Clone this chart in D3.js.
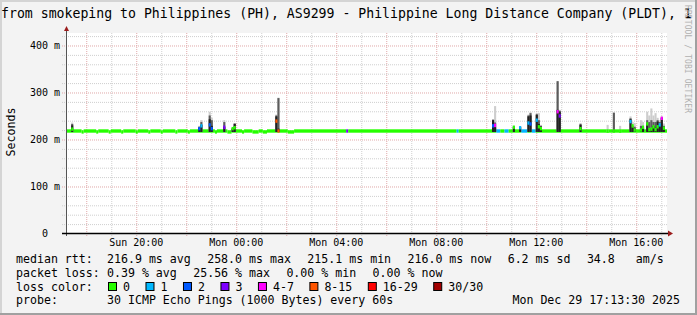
<!DOCTYPE html>
<html>
<head>
<meta charset="utf-8">
<script src="https://cdn.jsdelivr.net/npm/d3@7"></script>
<style>
  html, body { margin: 0; padding: 0; background: #f3f3f3; }
  svg { display: block; }
  text { font-family: "DejaVu Sans Mono", monospace; fill: #000; white-space: pre; }
</style>
</head>
<body>
<div id="chart-container"></div>
<script>
const WIDTH = 697;
const HEIGHT = 315;
const PLOT = { left: 67, right: 667, top: 33, bottom: 233 };

const TITLE = 'from smokeping to Philippines (PH), AS9299 - Philippine Long Distance Company (PLDT), 1';
const WATERMARK = 'RRDTOOL / TOBI OETIKER';
const START_TIME = 'Sun 17:15';
const END_TIME = 'Mon 17:15';
const Y_MAX = 425.5;
const Y_TICKS = [0, 100, 200, 300, 400];
const Y_TICK_LABELS = ['0  ', '100 m', '200 m', '300 m', '400 m'];

// median line, each run lasts until the next one starts (ms, lost pings)
const RUN_START = ['Sun 17:15', 'Sun 17:50', 'Sun 17:55', 'Sun 18:25', 'Sun 18:30', 'Sun 18:55', 'Sun 19:00',
  'Sun 19:25', 'Sun 19:30', 'Sun 20:00', 'Sun 20:05', 'Sun 20:30', 'Sun 20:35', 'Sun 21:00', 'Sun 21:05',
  'Sun 21:35', 'Sun 21:40', 'Sun 22:05', 'Sun 22:10', 'Sun 23:10', 'Sun 23:15', 'Sun 23:40', 'Sun 23:50',
  'Mon 00:15', 'Mon 00:20', 'Mon 00:40', 'Mon 00:55', 'Mon 01:05', 'Mon 01:15', 'Mon 02:05', 'Mon 02:20',
  'Mon 04:25', 'Mon 04:30', 'Mon 08:50', 'Mon 08:55', 'Mon 10:25', 'Mon 10:35', 'Mon 10:45', 'Mon 10:55',
  'Mon 11:25', 'Mon 11:40', 'Mon 11:50', 'Mon 12:00'];
const RUN_MEDIAN = [217, 215, 217, 215, 217, 215, 217,
  215, 217, 215, 217, 215, 217, 215, 217,
  215, 217, 215, 217, 215, 217, 215, 217,
  215, 217, 215, 217, 215, 217, 215, 217,
  217, 217, 217, 217, 217, 217, 217, 217,
  217, 217, 217, 217];
const RUN_LOSS = [0, 0, 0, 0, 0, 0, 0,
  0, 0, 0, 0, 0, 0, 0, 0,
  0, 0, 0, 0, 0, 0, 0, 0,
  0, 0, 0, 0, 0, 0, 0, 0,
  3, 0, 1, 0, 1, 0, 1, 0,
  1, 0, 1, 0];

// 5 minute steps that stick out of the line
const SPIKE_TIME = ['Sun 17:25', 'Sun 22:30', 'Sun 22:35', 'Sun 22:55', 'Sun 23:00', 'Sun 23:30', 'Sun 23:50',
  'Sun 23:55', 'Mon 01:35', 'Mon 01:40', 'Mon 10:15', 'Mon 10:20', 'Mon 11:05', 'Mon 11:20', 'Mon 11:40',
  'Mon 11:45', 'Mon 12:00', 'Mon 12:05', 'Mon 12:10', 'Mon 12:50', 'Mon 12:55', 'Mon 13:45', 'Mon 14:50',
  'Mon 15:05', 'Mon 15:20', 'Mon 15:45', 'Mon 15:50', 'Mon 15:55', 'Mon 16:10', 'Mon 16:15', 'Mon 16:25',
  'Mon 16:30', 'Mon 16:35', 'Mon 16:40', 'Mon 16:45', 'Mon 16:50', 'Mon 16:55', 'Mon 17:00', 'Mon 17:05'];
const SPIKE_MIN = [215, 215, 215, 215, 215, 215, 215,
  215, 215, 215, 215, 215, 215, 215, 215,
  215, 215, 215, 215, 215, 215, 215, 215,
  215, 215, 215, 215, 215, 215, 215, 215,
  215, 215, 215, 215, 215, 215, 215, 215];
const SPIKE_MEDIAN = [221, 222, 228, 230, 222, 225, 222,
  224, 238, 217, 228, 229, 225, 224, 234,
  232, 240, 226, 222, 258, 249, 222, 217,
  217, 217, 237, 228, 219, 219, 225, 232,
  220, 221, 226, 220, 226, 230, 244, 223];
const SPIKE_LOSS = [0, 2, 1, 2, 2, 3, 0,
  0, 10, 10, 2, 5, 0, 1, 1,
  2, 1, 0, 0, 5, 3, 0, 0,
  0, 0, 1, 0, 0, 0, 0, 0,
  0, 0, 0, 0, 0, 1, 5, 0];
const SPIKE_DARK = [229, 224, 230, 242, 228, 226, 222,
  232, 248, 222, 240, 225, 226, 225, 248,
  250, 251, 232, 226, 262, 258, 230, 215,
  218, 215, 242, 224, 222, 220, 223, 233,
  222, 222, 228, 224, 237, 232, 245, 226];
const SPIKE_MID = [232, 226, 236, 250, 240, 236, 223,
  233, 250, 287, 241, 235, 227, 226, 250,
  255, 253, 240, 228, 323, 260, 232, 215,
  256, 215, 244, 228, 226, 228, 226, 240,
  236, 240, 236, 236, 240, 236, 246, 228];
const SPIKE_MAX = [235, 228, 240, 258, 245, 240, 224,
  234, 252, 288, 242, 270, 228, 227, 252,
  257, 255, 255, 230, 323, 262, 234, 230,
  256, 228, 248, 236, 234, 240, 236, 258,
  250, 265, 250, 255, 245, 240, 248, 233];

const LOSS_THRESHOLDS = [1, 2, 3, 4, 8, 16, 30];
const LOSS_COLORS = ['#26ff00', '#00b8ff', '#0059ff', '#7e00ff', '#ff00ff', '#ff5500', '#ff0000', '#a10000'];
const LOSS_LABELS = ['0', '1', '2', '3', '4-7', '8-15', '16-29', '30/30'];

const RTT_STATS = ['216.9 ms avg', '258.0 ms max', '215.1 ms min', '216.0 ms now', '6.2 ms sd', '34.8   am/s'];
const LOSS_STATS = ['0.39 % avg', '25.56 % max', '0.00 % min', '0.00 % now'];
const PROBE_TEXT = '30 ICMP Echo Pings (1000 Bytes) every 60s';
const STAMP = 'Mon Dec 29 17:13:30 2025';

const DAYS = { Sun: 28, Mon: 29 };
const parseT = s => {
  const [d, hm] = s.split(' ');
  const [h, m] = hm.split(':').map(Number);
  return new Date(2025, 11, DAYS[d], h, m);
};
const STEP = 5 * 60 * 1000;

const svg = d3.select('#chart-container').append('svg')
  .attr('width', WIDTH)
  .attr('height', HEIGHT);

svg.append('rect').attr('width', WIDTH).attr('height', HEIGHT).attr('fill', '#f3f3f3');
svg.append('path')
  .attr('d', `M1,${HEIGHT} V1 H${WIDTH}`)
  .attr('fill', 'none').attr('stroke', '#d4d4d4').attr('stroke-width', 2);
svg.append('path')
  .attr('d', `M0,${HEIGHT - 1} H${WIDTH - 1} V0`)
  .attr('fill', 'none').attr('stroke', '#a0a0a0').attr('stroke-width', 2);

const x = d3.scaleTime()
  .domain([parseT(START_TIME), parseT(END_TIME)])
  .range([PLOT.left, PLOT.right]);
const y = d3.scaleLinear()
  .domain([0, Y_MAX])
  .range([PLOT.bottom, PLOT.top]);
const lossColor = d3.scaleThreshold().domain(LOSS_THRESHOLDS).range(LOSS_COLORS);

svg.append('rect')
  .attr('x', PLOT.left).attr('y', PLOT.top)
  .attr('width', PLOT.right - PLOT.left).attr('height', PLOT.bottom - PLOT.top)
  .attr('fill', '#fff');

// grid
const vGrid = svg.append('g')
  .attr('transform', `translate(0.5, ${PLOT.bottom + 3})`)
  .call(d3.axisBottom(x).ticks(d3.timeHour.every(1)).tickSize(-(PLOT.bottom + 3 - PLOT.top)).tickFormat(''));
vGrid.select('.domain').remove();
vGrid.selectAll('line')
  .attr('stroke', d => d.getHours() % 2 === 0 ? '#e0a8a8' : '#cfcfcf')
  .attr('stroke-dasharray', '1,1');

const hGrid = svg.append('g')
  .attr('transform', `translate(${PLOT.left - 5}, 0.5)`)
  .call(d3.axisLeft(y).tickValues(d3.range(20, Y_MAX, 20)).tickSize(-(PLOT.right + 1 - PLOT.left + 5)).tickFormat(''));
hGrid.select('.domain').remove();
hGrid.selectAll('line')
  .attr('stroke', d => d % 100 === 0 ? '#e0a8a8' : '#cfcfcf')
  .attr('stroke-dasharray', '1,1');

// data
const plot = svg.append('g');
const runs = RUN_START.map((s, i) => ({
  start: parseT(s),
  end: i + 1 < RUN_START.length ? parseT(RUN_START[i + 1]) : parseT(END_TIME),
  median: RUN_MEDIAN[i],
  loss: RUN_LOSS[i]
}));
const spikes = SPIKE_TIME.map((s, i) => ({
  start: parseT(s),
  min: SPIKE_MIN[i],
  median: SPIKE_MEDIAN[i],
  loss: SPIKE_LOSS[i],
  dark: SPIKE_DARK[i],
  mid: SPIKE_MID[i],
  max: SPIKE_MAX[i]
}));
const BAND = 3.6;

plot.selectAll('rect.run')
  .data(runs)
  .enter()
  .append('rect')
  .attr('class', 'run')
  .attr('x', d => x(d.start))
  .attr('width', d => x(d.end) - x(d.start))
  .attr('y', d => y(d.median + BAND))
  .attr('height', d => y(d.median - BAND) - y(d.median + BAND))
  .attr('fill', d => lossColor(d.loss));

[['max', '#cdcdcd'], ['mid', '#5c5c5c'], ['dark', '#222']].forEach(([key, color]) => {
  plot.selectAll('rect.smoke-' + key)
    .data(spikes)
    .enter()
    .append('rect')
    .attr('class', 'smoke-' + key)
    .attr('x', d => x(d.start))
    .attr('width', d => x(new Date(+d.start + STEP)) - x(d.start))
    .attr('y', d => y(d[key]))
    .attr('height', d => y(d.min) - y(d[key]))
    .attr('fill', color);
});

plot.selectAll('rect.spike-median')
  .data(spikes)
  .enter()
  .append('rect')
  .attr('class', 'spike-median')
  .attr('x', d => x(d.start))
  .attr('width', d => x(new Date(+d.start + STEP)) - x(d.start))
  .attr('y', d => y(d.median + BAND))
  .attr('height', d => y(d.median - BAND) - y(d.median + BAND))
  .attr('fill', d => lossColor(d.loss));

// axes
svg.append('line')
  .attr('x1', PLOT.left - 0.5).attr('x2', PLOT.left - 0.5)
  .attr('y1', PLOT.bottom + 3).attr('y2', PLOT.top - 3)
  .attr('stroke', '#555');
svg.append('path')
  .attr('d', `M${PLOT.left - 3},${PLOT.top - 2} L${PLOT.left - 0.5},${PLOT.top - 7} L${PLOT.left + 2},${PLOT.top - 2} Z`)
  .attr('fill', '#9b1c1c');
svg.append('line')
  .attr('x1', PLOT.left - 5).attr('x2', PLOT.right + 2)
  .attr('y1', PLOT.bottom + 0.5).attr('y2', PLOT.bottom + 0.5)
  .attr('stroke', '#000').attr('stroke-width', 1.5);
svg.append('path')
  .attr('d', `M${PLOT.right + 1},${PLOT.bottom - 2.5} L${PLOT.right + 6},${PLOT.bottom + 0.5} L${PLOT.right + 1},${PLOT.bottom + 3.5} Z`)
  .attr('fill', '#9b1c1c');

const xAxis = svg.append('g')
  .attr('transform', `translate(0, ${PLOT.bottom})`)
  .call(d3.axisBottom(x).ticks(d3.timeHour.every(4)).tickFormat(d3.timeFormat('%a %H:%M')).tickSize(0));
xAxis.select('.domain').remove();
xAxis.selectAll('text')
  .attr('y', 13).attr('dy', null)
  .style('font-family', '"DejaVu Sans Mono", monospace')
  .style('font-size', '10px')
  .attr('fill', '#000');

const yAxis = svg.append('g')
  .attr('transform', `translate(${PLOT.left - 7}, 0)`)
  .call(d3.axisLeft(y).tickValues(Y_TICKS).tickFormat((d, i) => Y_TICK_LABELS[i]).tickSize(0));
yAxis.select('.domain').remove();
yAxis.selectAll('text')
  .attr('x', 0).attr('dy', '0.35em')
  .style('font-family', '"DejaVu Sans Mono", monospace')
  .style('font-size', '10px')
  .style('white-space', 'pre')
  .attr('fill', '#000');

// titles
svg.append('text')
  .attr('x', 1).attr('y', 18)
  .style('font-size', '13.2px')
  .text(TITLE);
svg.append('text')
  .attr('transform', 'translate(15, 132) rotate(-90)')
  .attr('text-anchor', 'middle')
  .style('font-size', '11.6px')
  .text('Seconds');
svg.append('text')
  .attr('transform', 'translate(685, 5) rotate(90)')
  .attr('textLength', 108)
  .attr('lengthAdjust', 'spacing')
  .style('font-size', '8px')
  .style('fill', '#b0b0b0')
  .text(WATERMARK);

// legend
const LEGEND_FONT = '11.6px';
function legendRow(yPos, label, items) {
  svg.append('text').attr('x', 16).attr('y', yPos).style('font-size', LEGEND_FONT).text(label);
  let cx = 107;
  items.forEach(s => {
    const t = svg.append('text').attr('x', cx).attr('y', yPos).style('font-size', LEGEND_FONT).text(s);
    cx += t.node().getComputedTextLength() + 16.4;
  });
}
legendRow(263, 'median rtt:', RTT_STATS);
legendRow(277, 'packet loss:', LOSS_STATS);

svg.append('text').attr('x', 16).attr('y', 290.5).style('font-size', LEGEND_FONT).text('loss color:');
let lx = 108;
LOSS_LABELS.forEach((label, i) => {
  svg.append('rect')
    .attr('x', lx + 0.5).attr('y', 282.5)
    .attr('width', 8).attr('height', 8)
    .attr('fill', LOSS_COLORS[i])
    .attr('stroke', '#000');
  const t = svg.append('text').attr('x', lx + 15).attr('y', 290.5).style('font-size', LEGEND_FONT).text(label);
  lx += 15 + t.node().getComputedTextLength() + 15.5;
});

legendRow(304, 'probe:', [PROBE_TEXT]);
svg.append('text')
  .attr('x', 680).attr('y', 304)
  .attr('text-anchor', 'end')
  .style('font-size', LEGEND_FONT)
  .text(STAMP);
</script>
</body>
</html>
